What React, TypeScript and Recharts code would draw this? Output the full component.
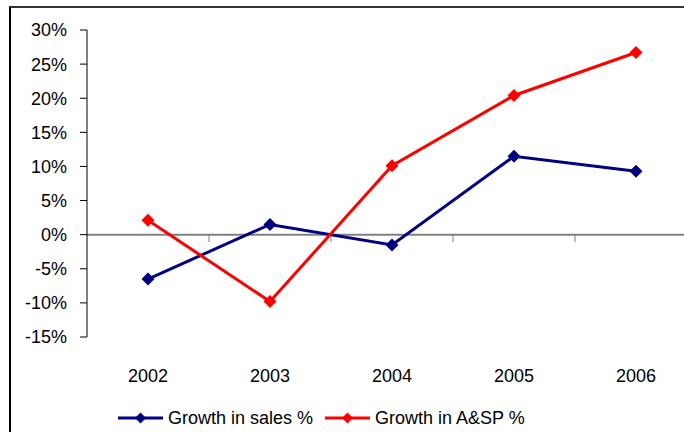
import { LineChart, Line, XAxis, YAxis, ReferenceLine, Legend } from 'recharts';

const years = [2002, 2003, 2004, 2005, 2006];
const salesGrowth = [-6.5, 1.5, -1.5, 11.5, 9.3];
const aspGrowth = [2.1, -9.8, 10.1, 20.4, 26.7];
const yTicks = [-15, -10, -5, 0, 5, 10, 15, 20, 25, 30];
const seriesOrder = ['sales', 'asp'];

const NAVY = '#000080';
const RED = '#ff0000';
const FONT = '"Liberation Sans", Arial, sans-serif';

const data = years.map((year, i) => ({ year, sales: salesGrowth[i], asp: aspGrowth[i] }));
// category boundaries, where Excel puts its tick marks on the x axis
const boundaries = years.map((y) => y + 0.5);

const Diamond = ({ cx, cy, r, color }: any) => {
  if (cx == null || cy == null) return null;
  return <path d={`M${cx},${cy - r}L${cx + r},${cy}L${cx},${cy + r}L${cx - r},${cy}Z`} fill={color} stroke="none" />;
};

const LegendContent = ({ payload }: any) => {
  const items = [...(payload || [])].sort(
    (a: any, b: any) => seriesOrder.indexOf(a.dataKey) - seriesOrder.indexOf(b.dataKey)
  );
  return (
    <div
      style={{
        display: 'flex',
        alignItems: 'center',
        height: 24,
        marginLeft: 118,
        fontFamily: FONT,
        fontSize: 18,
        color: '#000',
        whiteSpace: 'nowrap',
      }}
    >
      {items.map((entry: any) => (
        <div key={entry.value} style={{ display: 'flex', alignItems: 'center', marginRight: 12 }}>
          <svg width={45} height={14}>
            <line x1={0} y1={7} x2={45} y2={7} stroke={entry.color} strokeWidth={3} />
            <Diamond cx={22.5} cy={7} r={5.5} color={entry.color} />
          </svg>
          <span style={{ marginLeft: 5 }}>{entry.value}</span>
        </div>
      ))}
    </div>
  );
};

export default function App() {
  return (
    <div style={{ position: 'fixed', left: 0, top: 0, width: 684, height: 432, overflow: 'hidden', background: '#fff' }}>
      <div
        style={{
          position: 'absolute',
          left: 9,
          top: 6,
          width: 1000,
          height: 1000,
          borderLeft: '2px solid #000',
          borderTop: '2px solid #333',
        }}
      />
      <div style={{ position: 'absolute', left: 0, top: 0 }}>
        <LineChart width={697} height={432} data={data} margin={{ top: 30, right: 0, bottom: 2, left: 0 }}>
          <XAxis
            dataKey="year"
            type="number"
            domain={[2001.5, 2006.5]}
            ticks={years}
            axisLine={false}
            tickLine={false}
            tickSize={0}
            tickMargin={32}
            height={69}
            tick={{ fill: '#000', fontSize: 18, fontFamily: FONT }}
          />
          <YAxis
            domain={[-15, 30]}
            ticks={yTicks}
            width={87}
            interval={0}
            axisLine={{ stroke: '#000', strokeWidth: 1 }}
            tickLine={{ stroke: '#000', strokeWidth: 1 }}
            tickSize={7}
            tickMargin={13}
            tickFormatter={(v) => `${v}%`}
            tick={{ fill: '#000', fontSize: 18, fontFamily: FONT }}
          />
          <ReferenceLine y={0} stroke="#808080" strokeWidth={2} />
          {boundaries.map((b) => (
            <ReferenceLine
              key={b}
              segment={[
                { x: b, y: 0 },
                { x: b, y: -1.1 },
              ]}
              stroke="#808080"
              strokeWidth={1}
            />
          ))}
          <Legend verticalAlign="bottom" align="left" content={<LegendContent />} />
          <Line
            dataKey="sales"
            name="Growth in sales %"
            stroke={NAVY}
            strokeWidth={3}
            isAnimationActive={false}
            dot={(p: any) => <Diamond key={`s-${p.index}`} cx={p.cx} cy={p.cy} r={6.5} color={NAVY} />}
            activeDot={false}
          />
          <Line
            dataKey="asp"
            name="Growth in A&SP %"
            stroke={RED}
            strokeWidth={3}
            isAnimationActive={false}
            dot={(p: any) => <Diamond key={`a-${p.index}`} cx={p.cx} cy={p.cy} r={6.5} color={RED} />}
            activeDot={false}
          />
        </LineChart>
      </div>
    </div>
  );
}
